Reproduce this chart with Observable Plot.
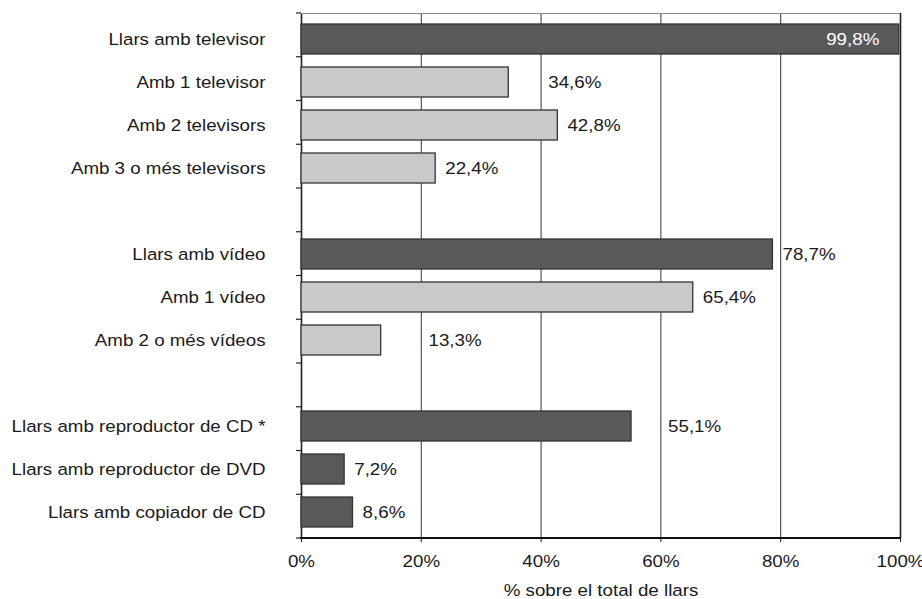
<!DOCTYPE html>
<html><head><meta charset="utf-8">
<script src="https://cdn.jsdelivr.net/npm/d3@7"></script>
<script src="https://cdn.jsdelivr.net/npm/@observablehq/plot@0.6"></script>
<style>
body{margin:0;background:#fff}
#chart svg{font-family:"Liberation Sans",Arial,Helvetica,sans-serif}
</style>
</head><body><div id="chart"></div>
<script>
const categories = [
  "Llars amb televisor","Amb 1 televisor","Amb 2 televisors","Amb 3 o més televisors",
  "Llars amb vídeo","Amb 1 vídeo","Amb 2 o més vídeos",
  "Llars amb reproductor de CD *","Llars amb reproductor de DVD","Llars amb copiador de CD"
];
const values = [99.8, 34.6, 42.8, 22.4, 78.7, 65.4, 13.3, 55.1, 7.2, 8.6];
const levels = ["total","sub","sub","sub","total","sub","sub","total","total","total"];
const rowOrder = [
  categories[0], categories[1], categories[2], categories[3], "gap1",
  categories[4], categories[5], categories[6], "gap2",
  categories[7], categories[8], categories[9]
];
const xTicks = [0, 20, 40, 60, 80, 100];
const axisTitle = "% sobre el total de llars";

const data = categories.map((c, i) => ({category: c, value: values[i], level: levels[i]}));
const fmt = v => v.toFixed(1).replace(".", ",") + "%";

// label placement rule: just right of the bar, pushed past a gridline if it would cross one
const labelPos = v => {
  let s = v + 1.6;
  const w = 8;
  if (Math.floor(s / 20) !== Math.floor((s + w) / 20)) s = Math.ceil(s / 20) * 20 + 1.2;
  return s;
};
const outside = data.filter(d => d.value < 90);
const inside = data.filter(d => d.value >= 90);

// band-boundary ticks on the left axis plus top/bottom lines
const frameLines = (index, scales, vals, dims) => {
  const g = d3.create("svg:g");
  const n = rowOrder.length;
  const top = dims.marginTop, bottom = dims.height - dims.marginBottom;
  const left = dims.marginLeft, right = dims.width - dims.marginRight;
  const step = (bottom - top) / n;
  g.append("line").attr("x1", left).attr("x2", right).attr("y1", top + 0.5).attr("y2", top + 0.5)
    .attr("stroke", "#888").attr("stroke-width", 1.2);
  for (let i = 0; i <= n; i++) {
    const y = top + i * step;
    g.append("line").attr("x1", left - 5).attr("x2", left).attr("y1", y).attr("y2", y)
      .attr("stroke", "#222").attr("stroke-width", 1.2);
  }
  g.append("line").attr("x1", left - 1).attr("x2", right + 1).attr("y1", bottom).attr("y2", bottom)
    .attr("stroke", "#111").attr("stroke-width", 2);
  return g.node();
};

const chart = Plot.plot({
  width: 922,
  height: 599,
  marginLeft: 301,
  marginRight: 22,
  marginTop: 13,
  marginBottom: 61,
  style: {fontFamily: '"Liberation Sans",Arial,Helvetica,sans-serif', fontSize: "16.3px", color: "#1a1a1a", background: "#fff"},
  x: {domain: [0, 100]},
  y: {type: "band", domain: rowOrder, paddingInner: 0.31, paddingOuter: 0.155},
  marks: [
    Plot.ruleX(xTicks.filter(d => d > 0 && d < 100), {stroke: "#333", strokeWidth: 1}),
    Plot.ruleX([0, 100], {stroke: "#222", strokeWidth: 1.6}),
    Plot.barX(data, {
      x: "value", y: "category",
      fill: d => d.level === "total" ? "#58595b" : "#c8c9ca",
      stroke: "#333", strokeWidth: 1.3
    }),
    Plot.text(outside, {x: d => labelPos(d.value), y: "category", text: d => fmt(d.value), textAnchor: "start", fill: "#1a1a1a"}),
    Plot.text(inside, {x: "value", y: "category", text: d => fmt(d.value), textAnchor: "end", dx: -20, fill: "#fff"}),
    Plot.axisY({ticks: categories, tickSize: 0, tickPadding: 36, label: null}),
    Plot.axisX({ticks: xTicks, tickFormat: d => d + "%", tickSize: 4, tickPadding: 13, label: null}),
    Plot.text([axisTitle], {frameAnchor: "bottom", dy: 52, lineAnchor: "middle", fill: "#1a1a1a"}),
    frameLines
  ]
});
document.getElementById("chart").appendChild(chart);
// the reference text is horizontally wide; stretch glyphs to match
chart.querySelectorAll("text").forEach(t => {
  const w = t.getComputedTextLength();
  if (w > 0) {
    t.setAttribute("textLength", (w * 1.15).toFixed(1));
    t.setAttribute("lengthAdjust", "spacingAndGlyphs");
  }
});
</script>
</body></html>
